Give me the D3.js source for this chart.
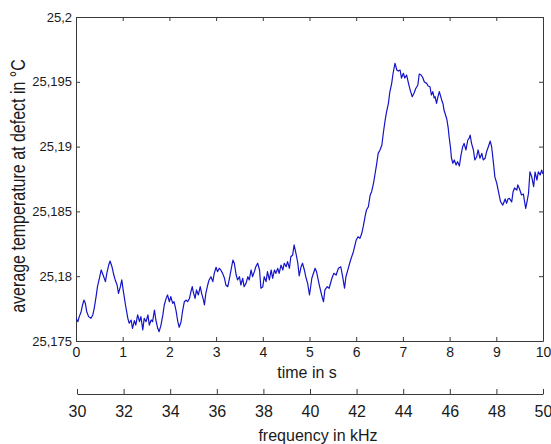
<!DOCTYPE html>
<html>
<head>
<meta charset="utf-8">
<style>
  body { margin: 0; background: #fff; }
  svg text { font-family: "Liberation Sans", Arial, sans-serif; fill: #1a1a1a; }
  .axis path, .axis line { stroke: #3a3a3a; }
</style>
<script src="https://cdn.jsdelivr.net/npm/d3@7"></script>
</head>
<body>
<svg id="chart" width="551" height="444"></svg>
<script>
// time in s
let timeS = [0.00,0.04,0.07,0.11,0.14,0.17,0.20,0.23,0.27,0.32,0.36,0.39,0.43,0.46,0.50,0.54,0.58,0.63,0.66,0.70,
  0.73,0.77,0.81,0.84,0.88,0.91,0.95,0.98,1.01,1.06,1.11,1.14,1.18,1.21,1.25,1.28,1.32,1.36,1.39,1.43,
  1.46,1.50,1.54,1.57,1.61,1.64,1.68,1.71,1.75,1.78,1.82,1.86,1.89,1.93,1.96,2.00,2.03,2.07,2.10,2.14,
  2.18,2.21,2.25,2.28,2.32,2.36,2.39,2.43,2.46,2.49,2.51,2.55,2.58,2.62,2.66,2.69,2.73,2.75,2.78,2.82,
  2.85,2.89,2.93,2.96,3.00,3.03,3.07,3.10,3.14,3.18,3.21,3.25,3.28,3.32,3.36,3.39,3.43,3.46,3.50,3.53,
  3.57,3.60,3.64,3.68,3.71,3.75,3.78,3.82,3.85,3.89,3.93,3.96,4.00,4.03,4.07,4.10,4.14,4.18,4.21,4.25,
  4.28,4.32,4.35,4.39,4.43,4.46,4.50,4.53,4.57,4.60,4.64,4.67,4.71,4.75,4.78,4.82,4.85,4.89,4.92,4.96,
  5.00,5.05,5.12,5.15,5.21,5.26,5.30,5.33,5.38,5.42,5.48,5.52,5.57,5.62,5.67,5.71,5.75,5.78,5.83,5.88,
  5.94,6.00,6.04,6.08,6.12,6.15,6.19,6.22,6.26,6.30,6.33,6.37,6.40,6.44,6.47,6.51,6.55,6.58,6.62,6.65,
  6.69,6.72,6.76,6.79,6.83,6.87,6.90,6.94,6.97,7.01,7.04,7.08,7.12,7.15,7.20,7.24,7.27,7.32,7.35,7.39,
  7.42,7.46,7.51,7.54,7.58,7.61,7.64,7.67,7.69,7.72,7.75,7.78,7.83,7.86,7.88,7.94,7.97,7.99,8.02,8.04,
  8.07,8.10,8.14,8.17,8.21,8.24,8.28,8.31,8.35,8.39,8.42,8.44,8.47,8.51,8.54,8.58,8.61,8.65,8.69,8.72,
  8.76,8.79,8.83,8.87,8.90,8.94,8.97,9.01,9.04,9.09,9.14,9.19,9.22,9.25,9.28,9.33,9.36,9.39,9.44,9.46,
  9.49,9.54,9.58,9.60,9.63,9.66,9.69,9.72,9.76,9.78,9.80,9.83,9.87,9.90,9.94,9.97,10.00]

// average temperature at defect in °C
let tempC = [25.17675,25.17649,25.17688,25.17726,25.17778,25.17816,25.17791,25.17726,25.17688,25.17675,
  25.17701,25.17752,25.17842,25.17919,25.17984,25.18048,25.18009,25.17958,25.18022,25.18086,
  25.18117,25.18073,25.18009,25.17971,25.17932,25.17868,25.17919,25.17971,25.17894,25.17778,
  25.17675,25.17637,25.17662,25.17598,25.17657,25.17623,25.17701,25.17649,25.17688,25.17585,
  25.17675,25.17649,25.17701,25.17623,25.17662,25.17649,25.17739,25.17662,25.17598,25.17572,
  25.17623,25.17701,25.17778,25.17829,25.17855,25.17803,25.17842,25.17791,25.17803,25.17739,
  25.17649,25.17606,25.17649,25.17726,25.17803,25.17816,25.17803,25.17829,25.17880,25.17919,
  25.17880,25.17829,25.17894,25.17855,25.17919,25.17868,25.17816,25.17778,25.17868,25.17932,
  25.17971,25.17996,25.17958,25.18022,25.18069,25.18035,25.18061,25.18048,25.18022,25.17984,
  25.17932,25.17919,25.17971,25.18048,25.18125,25.18100,25.18009,25.17971,25.17996,25.17932,
  25.17984,25.17919,25.17945,25.17996,25.17971,25.18048,25.17996,25.18035,25.18073,25.18100,
  25.18048,25.17907,25.17919,25.17996,25.17958,25.18035,25.17971,25.18048,25.17984,25.18048,
  25.18022,25.18061,25.18022,25.18086,25.18048,25.18100,25.18073,25.18112,25.18061,25.18150,
  25.18164,25.18241,25.18177,25.18100,25.18002,25.18073,25.18100,25.18048,25.17996,25.17945,
  25.17855,25.17984,25.18061,25.18035,25.17932,25.17855,25.17803,25.17894,25.17919,25.17907,
  25.17984,25.18022,25.18009,25.18061,25.18073,25.17996,25.17907,25.17996,25.18061,25.18125,
  25.18189,25.18279,25.18305,25.18292,25.18331,25.18382,25.18459,25.18511,25.18536,25.18627,
  25.18652,25.18717,25.18781,25.18871,25.18948,25.18974,25.19012,25.19103,25.19205,25.19267,
  25.19334,25.19421,25.19488,25.19566,25.19643,25.19591,25.19583,25.19591,25.19529,25.19566,
  25.19529,25.19552,25.19488,25.19444,25.19385,25.19414,25.19444,25.19475,25.19560,25.19552,
  25.19537,25.19498,25.19488,25.19468,25.19462,25.19398,25.19424,25.19375,25.19385,25.19334,
  25.19383,25.19424,25.19360,25.19329,25.19282,25.19213,25.19144,25.19074,25.18989,25.18912,
  25.18871,25.18897,25.18858,25.18884,25.18850,25.18927,25.18999,25.19025,25.18974,25.19051,
  25.19066,25.19089,25.19025,25.18974,25.18897,25.18922,25.18974,25.18910,25.18948,25.18897,
  25.18910,25.18958,25.18999,25.19043,25.18999,25.18871,25.18765,25.18717,25.18665,25.18575,
  25.18549,25.18596,25.18562,25.18596,25.18601,25.18573,25.18652,25.18681,25.18665,25.18704,
  25.18681,25.18627,25.18634,25.18588,25.18524,25.18580,25.18640,25.18806,25.18765,25.18727,
  25.18691,25.18804,25.18742,25.18806,25.18781,25.18819,25.18789]

let timeTicks = [0,1,2,3,4,5,6,7,8,9,10]
let tempTicks = [25.175,25.18,25.185,25.19,25.195,25.2]
let freqTicks = [30,32,34,36,38,40,42,44,46,48,50]

let svg = d3.select("#chart")
let plotLeft = 76, plotRight = 543, plotTop = 17, plotBottom = 341

let x = d3.scaleLinear().domain([0, 10]).range([plotLeft, plotRight])
let y = d3.scaleLinear().domain([25.175, 25.2]).range([plotBottom, plotTop])
let xf = d3.scaleLinear().domain([30, 50]).range([77, plotRight])

// decimal comma like the original
let de = d3.formatLocale({decimal: ",", thousands: ".", grouping: [3], currency: ["", ""]})
let fmt = de.format(".6~g")

// frame ticks, pointing inwards
svg.append("g").attr("class", "axis")
  .attr("transform", "translate(0," + plotTop + ")")
  .call(d3.axisTop(x).tickValues(timeTicks).tickSizeInner(-4).tickSizeOuter(0).tickFormat(""))
svg.append("g").attr("class", "axis")
  .attr("transform", "translate(" + plotRight + ",0)")
  .call(d3.axisRight(y).tickValues(tempTicks).tickSizeInner(-4).tickSizeOuter(0).tickFormat(""))

let gx = svg.append("g").attr("class", "axis")
  .attr("transform", "translate(0," + plotBottom + ")")
  .call(d3.axisBottom(x).tickValues(timeTicks).tickSizeInner(-4).tickSizeOuter(0).tickPadding(6))
gx.selectAll("text").attr("font-size", 14)

let gy = svg.append("g").attr("class", "axis")
  .attr("transform", "translate(" + plotLeft + ",0)")
  .call(d3.axisLeft(y).tickValues(tempTicks).tickSizeInner(-4).tickSizeOuter(0).tickPadding(4).tickFormat(fmt))
gy.selectAll("text").attr("font-size", 13)

// second x axis: frequency
let gf = svg.append("g").attr("class", "axis")
  .attr("transform", "translate(0,394)")
  .call(d3.axisBottom(xf).tickValues(freqTicks).tickSizeInner(-5).tickSizeOuter(0).tickPadding(12))
gf.selectAll("text").attr("font-size", 16)

svg.selectAll(".axis text").attr("font-family", "Liberation Sans, Arial, sans-serif").attr("fill", "#1a1a1a")

// data line
svg.append("clipPath").attr("id", "plot")
  .append("rect").attr("x", plotLeft).attr("y", plotTop)
  .attr("width", plotRight - plotLeft).attr("height", plotBottom - plotTop)

let line = d3.line()
  .x((d, i) => x(timeS[i]))
  .y(d => y(d))

svg.append("path")
  .datum(tempC)
  .attr("clip-path", "url(#plot)")
  .attr("fill", "none")
  .attr("stroke", "#1414c8")
  .attr("stroke-width", 1.2)
  .attr("stroke-linejoin", "round")
  .attr("d", line)

// axis titles
svg.append("text").attr("x", 307).attr("y", 378).attr("text-anchor", "middle")
  .attr("font-size", 16).text("time in s")
svg.append("text").attr("x", 318).attr("y", 441).attr("text-anchor", "middle")
  .attr("font-size", 16).text("frequency in kHz")
svg.append("text")
  .attr("transform", "translate(25,186) rotate(-90) scale(1,1.25)")
  .attr("text-anchor", "middle")
  .attr("font-size", 16)
  .text("average temperature at defect in °C")
</script>
</body>
</html>
